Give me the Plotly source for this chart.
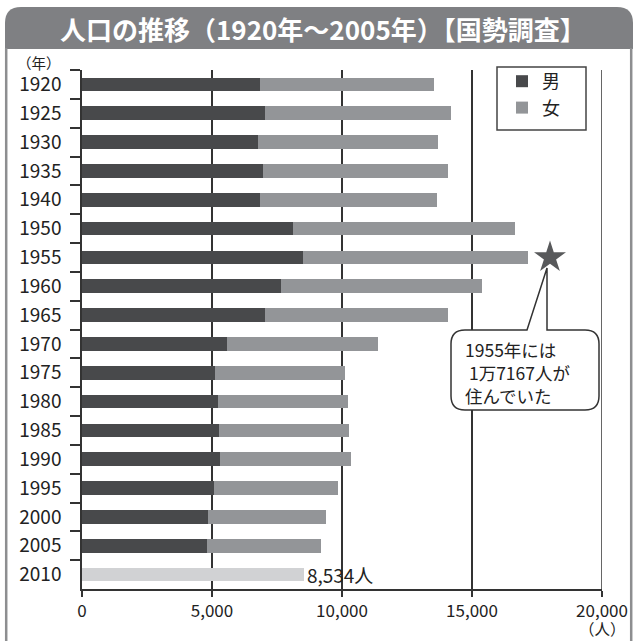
import plotly.graph_objects as go

years = ["1920", "1925", "1930", "1935", "1940", "1950", "1955", "1960", "1965",
         "1970", "1975", "1980", "1985", "1990", "1995", "2000", "2005"]
male = [6846, 7038, 6769, 6961, 6846, 8115, 8500, 7654, 7038,
        5577, 5115, 5231, 5269, 5308, 5073, 4854, 4808]
total = [13538, 14192, 13692, 14077, 13654, 16654, 17167, 15385, 14077,
         11385, 10115, 10231, 10269, 10346, 9846, 9385, 9185]
female = [t - m for t, m in zip(total, male)]
year_2010 = ["2010"]
total_2010 = [8534]
all_years = years + year_2010
x_ticks = [0, 5000, 10000, 15000, 20000]

FONT = "Noto Sans CJK JP, Noto Sans, sans-serif"
W, H = 640, 641
L, R, T, B = 82, 38, 70, 52
PW, PH = W - L - R, H - T - B


def px(x):
    return (x - L) / PW


def py(y):
    return (H - B - y) / PH


fig = go.Figure()
fig.add_trace(go.Bar(y=years, x=male, orientation="h", name="男", legendgroup="m",
                     marker=dict(color="#48494b", line=dict(width=0))))
fig.add_trace(go.Bar(y=years, x=female, orientation="h", name="女", legendgroup="f",
                     marker=dict(color="#939598", line=dict(width=0))))
fig.add_trace(go.Bar(y=year_2010, x=total_2010, orientation="h", showlegend=False,
                     marker=dict(color="#d1d2d4", line=dict(width=0)),
                     text=[f"{v:,}人" for v in total_2010], textposition="outside",
                     constraintext="none",
                     textfont=dict(size=19, color="#222"), cliponaxis=False))
fig.add_trace(go.Scatter(x=[18000], y=["1955"], mode="markers", showlegend=False,
                         marker=dict(symbol="star", size=24, color="#58595b",
                                     line=dict(width=0))))

shapes = []
# gridline at the right end of the axis
shapes.append(dict(type="line", xref="x", yref="paper", x0=x_ticks[-1], x1=x_ticks[-1],
                   y0=0, y1=1, line=dict(color="#333", width=1.5), layer="below"))
# title bar
r = 16
shapes.append(dict(type="path", xref="paper", yref="paper",
                   path=(f"M {px(5)},{py(49)} L {px(5)},{py(7 + r)} Q {px(5)},{py(7)} {px(5 + r)},{py(7)} "
                         f"L {px(633 - r)},{py(7)} Q {px(633)},{py(7)} {px(633)},{py(7 + r)} "
                         f"L {px(633)},{py(49)} Z"),
                   fillcolor="#7f8083", line=dict(width=0), layer="above"))
for xx in (6.2, 631.2):
    shapes.append(dict(type="line", xref="paper", yref="paper",
                       x0=px(xx), x1=px(xx), y0=py(48), y1=py(641),
                       line=dict(color="#8d8e90", width=2.5)))
# legend frame
shapes.append(dict(type="rect", xref="paper", yref="paper",
                   x0=px(497), x1=px(586), y0=py(67), y1=py(130),
                   fillcolor="white", line=dict(color="#444", width=1.5), layer="above"))
# callout
bl, br, bt, bb, rr = 451, 599, 330, 410, 14
shapes.append(dict(type="path", xref="paper", yref="paper",
                   path=(f"M {px(bl + rr)},{py(bt)} L {px(527)},{py(bt)} L {px(547)},{py(268)} "
                         f"L {px(547)},{py(bt)} L {px(br - rr)},{py(bt)} Q {px(br)},{py(bt)} {px(br)},{py(bt + rr)} "
                         f"L {px(br)},{py(bb - rr)} Q {px(br)},{py(bb)} {px(br - rr)},{py(bb)} "
                         f"L {px(bl + rr)},{py(bb)} Q {px(bl)},{py(bb)} {px(bl)},{py(bb - rr)} "
                         f"L {px(bl)},{py(bt + rr)} Q {px(bl)},{py(bt)} {px(bl + rr)},{py(bt)} Z"),
                   fillcolor="white", line=dict(color="#333", width=1.5), layer="above"))

annotations = [
    dict(text="<b>人口の推移（1920年～2005年）【国勢調査】</b>", xref="paper", yref="paper",
         x=px(323), y=py(29), xanchor="center", yanchor="middle", showarrow=False,
         font=dict(size=26, color="white", family=FONT)),
    dict(text="（年）", xref="paper", yref="paper", x=px(63), y=py(62), xanchor="right",
         yanchor="middle", showarrow=False, font=dict(size=14.5, color="#222", family=FONT)),
    dict(text="（人）", xref="paper", yref="paper", x=1, y=py(628), xanchor="center",
         yanchor="middle", showarrow=False, font=dict(size=15.5, color="#222", family=FONT)),
    dict(text="1955年には<br> 1万7167人が<br>住んでいた", xref="paper", yref="paper",
         x=px(463), y=py(372), xanchor="left", yanchor="middle", align="left", showarrow=False,
         font=dict(size=17.5, color="#222", family=FONT)),
]

fig.update_layout(
    width=W, height=H, margin=dict(l=L, r=R, t=T, b=B),
    paper_bgcolor="white", plot_bgcolor="white",
    barmode="stack", bargap=0.53,
    font=dict(family=FONT, color="#222"),
    shapes=shapes, annotations=annotations,
    legend=dict(x=px(502), y=py(63), xanchor="left", yanchor="top",
                bgcolor="rgba(0,0,0,0)", borderwidth=0, tracegroupgap=4,
                font=dict(size=18, color="#222", family=FONT), traceorder="normal",
                itemwidth=30),
    xaxis=dict(range=[x_ticks[0], x_ticks[-1]], tickvals=x_ticks, tickformat=",", showgrid=True,
               gridcolor="#333", gridwidth=1.5, showline=True, linecolor="#333", linewidth=1.5,
               ticks="outside", ticklen=6, tickcolor="#333", tickwidth=1.5,
               tickfont=dict(size=17, color="#222"), zeroline=False),
    yaxis=dict(categoryorder="array", categoryarray=all_years, autorange="reversed",
               showline=True, linecolor="#333", linewidth=1.5, tickson="boundaries",
               ticks="outside", ticklen=10, tickcolor="#333", tickwidth=1.5,
               tickfont=dict(size=19, color="#222"), ticklabelstandoff=15, showgrid=False),
)

fig.write_html("out.html")
